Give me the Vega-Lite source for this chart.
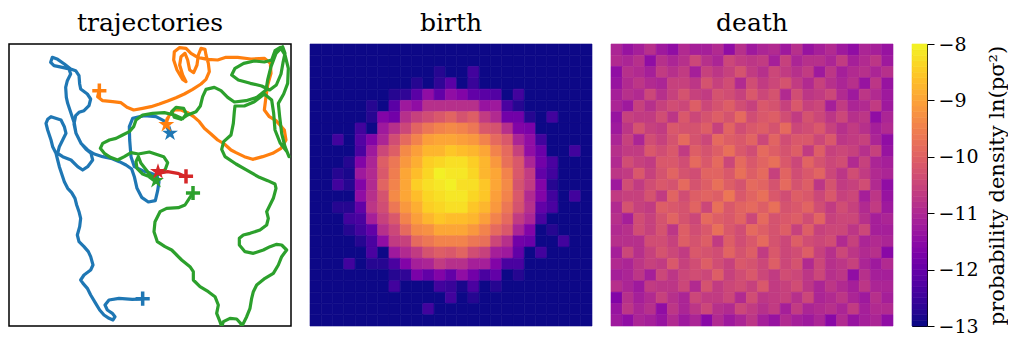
{
"$schema": "https://vega.github.io/schema/vega-lite/v6.json",
"background": "white",
"padding": {"left": 8, "top": 10, "right": 0, "bottom": 0},
"config": {"view": {"stroke": null}, "title": {"font": "DejaVu Serif", "fontSize": 25, "fontWeight": "normal", "color": "black", "offset": 8}},
"spacing": 17,
"resolve": {"scale": {"color": "independent", "fill": "independent", "stroke": "independent"}},
"datasets": {
"traj": [
{"id":"a","x":425,"y":897},{"id":"a","x":394,"y":898},{"id":"a","x":354,"y":895},{"id":"a","x":324,"y":900},{"id":"a","x":312,"y":915},{"id":"a","x":319,"y":930},{"id":"a","x":334,"y":940},{"id":"a","x":342,"y":950},{"id":"a","x":336,"y":960},{"id":"a","x":324,"y":955},{"id":"a","x":309,"y":945},{"id":"a","x":296,"y":930},{"id":"a","x":284,"y":910},{"id":"a","x":269,"y":885},{"id":"a","x":259,"y":865},{"id":"a","x":246,"y":850},{"id":"a","x":239,"y":840},{"id":"a","x":249,"y":825},{"id":"a","x":269,"y":810},{"id":"a","x":276,"y":795},{"id":"a","x":269,"y":770},{"id":"a","x":262,"y":755},{"id":"a","x":249,"y":740},{"id":"a","x":234,"y":725},{"id":"a","x":229,"y":705},{"id":"a","x":236,"y":680},{"id":"a","x":239,"y":655},{"id":"a","x":234,"y":635},{"id":"a","x":227,"y":615},{"id":"a","x":222,"y":595},{"id":"a","x":212,"y":578},{"id":"a","x":200,"y":565},{"id":"a","x":190,"y":545},{"id":"a","x":185,"y":530},{"id":"a","x":175,"y":500},{"id":"a","x":170,"y":480},{"id":"a","x":165,"y":460},{"id":"a","x":155,"y":440},{"id":"a","x":150,"y":420},{"id":"a","x":140,"y":390},{"id":"a","x":135,"y":370},{"id":"a","x":140,"y":358},{"id":"a","x":150,"y":350},{"id":"a","x":180,"y":360},{"id":"a","x":190,"y":380},{"id":"a","x":195,"y":400},{"id":"a","x":185,"y":420},{"id":"a","x":175,"y":440},{"id":"a","x":170,"y":460},{"id":"a","x":185,"y":470},{"id":"a","x":210,"y":480},{"id":"a","x":230,"y":500},{"id":"a","x":245,"y":510},{"id":"a","x":260,"y":500},{"id":"a","x":275,"y":480},{"id":"a","x":270,"y":460},{"id":"a","x":255,"y":448},{"id":"a","x":240,"y":430},{"id":"a","x":225,"y":400},{"id":"a","x":220,"y":370},{"id":"a","x":210,"y":340},{"id":"a","x":200,"y":310},{"id":"a","x":196,"y":292},{"id":"a","x":194,"y":262},{"id":"a","x":199,"y":242},{"id":"a","x":209,"y":222},{"id":"a","x":204,"y":207},{"id":"a","x":184,"y":202},{"id":"a","x":159,"y":197},{"id":"a","x":149,"y":187},{"id":"a","x":154,"y":172},{"id":"a","x":170,"y":178},{"id":"a","x":190,"y":192},{"id":"a","x":209,"y":207},{"id":"a","x":224,"y":212},{"id":"a","x":234,"y":227},{"id":"a","x":236,"y":252},{"id":"a","x":239,"y":267},{"id":"a","x":259,"y":282},{"id":"a","x":269,"y":297},{"id":"a","x":264,"y":317},{"id":"a","x":249,"y":332},{"id":"a","x":234,"y":337},{"id":"a","x":224,"y":347},{"id":"a","x":219,"y":372},{"id":"a","x":225,"y":400},{"id":"a","x":240,"y":430},{"id":"a","x":260,"y":450},{"id":"a","x":280,"y":462},{"id":"a","x":305,"y":470},{"id":"a","x":330,"y":475},{"id":"a","x":355,"y":485},{"id":"a","x":375,"y":495},{"id":"a","x":392,"y":507},{"id":"a","x":400,"y":530},{"id":"a","x":408,"y":565},{"id":"a","x":422,"y":592},{"id":"a","x":442,"y":606},{"id":"a","x":463,"y":602},{"id":"a","x":470,"y":572},{"id":"a","x":474,"y":545},{"id":"a","x":468,"y":528},{"id":"a","x":450,"y":520},{"id":"a","x":425,"y":512},{"id":"a","x":400,"y":500},{"id":"a","x":390,"y":470},{"id":"a","x":386,"y":420},{"id":"a","x":385,"y":380},{"id":"a","x":395,"y":355},{"id":"a","x":430,"y":347},{"id":"a","x":465,"y":350},{"id":"a","x":488,"y":362},{"id":"a","x":500,"y":385},{"id":"a","x":507,"y":400},
{"id":"b","x":295,"y":270},{"id":"b","x":290,"y":290},{"id":"b","x":305,"y":302},{"id":"b","x":335,"y":305},{"id":"b","x":360,"y":308},{"id":"b","x":378,"y":322},{"id":"b","x":398,"y":330},{"id":"b","x":425,"y":325},{"id":"b","x":450,"y":320},{"id":"b","x":475,"y":312},{"id":"b","x":500,"y":303},{"id":"b","x":525,"y":293},{"id":"b","x":550,"y":282},{"id":"b","x":575,"y":268},{"id":"b","x":600,"y":252},{"id":"b","x":615,"y":238},{"id":"b","x":625,"y":215},{"id":"b","x":622,"y":190},{"id":"b","x":615,"y":165},{"id":"b","x":612,"y":148},{"id":"b","x":600,"y":145},{"id":"b","x":592,"y":165},{"id":"b","x":588,"y":195},{"id":"b","x":578,"y":218},{"id":"b","x":566,"y":210},{"id":"b","x":560,"y":180},{"id":"b","x":552,"y":160},{"id":"b","x":540,"y":170},{"id":"b","x":536,"y":195},{"id":"b","x":545,"y":225},{"id":"b","x":555,"y":245},{"id":"b","x":545,"y":238},{"id":"b","x":528,"y":210},{"id":"b","x":518,"y":180},{"id":"b","x":520,"y":155},{"id":"b","x":535,"y":143},{"id":"b","x":555,"y":145},{"id":"b","x":570,"y":160},{"id":"b","x":590,"y":172},{"id":"b","x":620,"y":178},{"id":"b","x":650,"y":180},{"id":"b","x":675,"y":172},{"id":"b","x":710,"y":172},{"id":"b","x":750,"y":177},{"id":"b","x":790,"y":175},{"id":"b","x":808,"y":190},{"id":"b","x":810,"y":220},{"id":"b","x":800,"y":255},{"id":"b","x":795,"y":290},{"id":"b","x":790,"y":330},{"id":"b","x":805,"y":350},{"id":"b","x":825,"y":362},{"id":"b","x":850,"y":390},{"id":"b","x":855,"y":420},{"id":"b","x":840,"y":445},{"id":"b","x":815,"y":460},{"id":"b","x":785,"y":470},{"id":"b","x":755,"y":478},{"id":"b","x":730,"y":470},{"id":"b","x":705,"y":458},{"id":"b","x":690,"y":450},{"id":"b","x":670,"y":432},{"id":"b","x":650,"y":420},{"id":"b","x":630,"y":402},{"id":"b","x":610,"y":385},{"id":"b","x":595,"y":365},{"id":"b","x":578,"y":350},{"id":"b","x":560,"y":338},{"id":"b","x":540,"y":330},{"id":"b","x":520,"y":330},{"id":"b","x":505,"y":345},{"id":"b","x":498,"y":362},{"id":"b","x":495,"y":375},
{"id":"c","x":575,"y":580},{"id":"c","x":565,"y":595},{"id":"c","x":552,"y":615},{"id":"c","x":532,"y":623},{"id":"c","x":497,"y":625},{"id":"c","x":477,"y":635},{"id":"c","x":462,"y":665},{"id":"c","x":459,"y":695},{"id":"c","x":469,"y":725},{"id":"c","x":492,"y":740},{"id":"c","x":512,"y":750},{"id":"c","x":527,"y":765},{"id":"c","x":542,"y":780},{"id":"c","x":567,"y":800},{"id":"c","x":577,"y":815},{"id":"c","x":577,"y":840},{"id":"c","x":597,"y":860},{"id":"c","x":622,"y":875},{"id":"c","x":642,"y":890},{"id":"c","x":652,"y":915},{"id":"c","x":647,"y":940},{"id":"c","x":657,"y":965},{"id":"c","x":662,"y":980},{"id":"c","x":667,"y":965},{"id":"c","x":687,"y":955},{"id":"c","x":707,"y":957},{"id":"c","x":719,"y":970},{"id":"c","x":722,"y":980},{"id":"c","x":737,"y":950},{"id":"c","x":747,"y":925},{"id":"c","x":752,"y":895},{"id":"c","x":757,"y":875},{"id":"c","x":767,"y":855},{"id":"c","x":792,"y":835},{"id":"c","x":817,"y":820},{"id":"c","x":832,"y":795},{"id":"c","x":842,"y":770},{"id":"c","x":857,"y":750},{"id":"c","x":842,"y":735},{"id":"c","x":827,"y":733},{"id":"c","x":807,"y":740},{"id":"c","x":787,"y":750},{"id":"c","x":757,"y":760},{"id":"c","x":732,"y":755},{"id":"c","x":715,"y":735},{"id":"c","x":715,"y":715},{"id":"c","x":727,"y":705},{"id":"c","x":747,"y":700},{"id":"c","x":777,"y":690},{"id":"c","x":797,"y":675},{"id":"c","x":802,"y":655},{"id":"c","x":797,"y":635},{"id":"c","x":807,"y":615},{"id":"c","x":817,"y":595},{"id":"c","x":825,"y":565},{"id":"c","x":822,"y":552},{"id":"c","x":800,"y":542},{"id":"c","x":775,"y":532},{"id":"c","x":740,"y":512},{"id":"c","x":705,"y":492},{"id":"c","x":672,"y":470},{"id":"c","x":662,"y":448},{"id":"c","x":668,"y":425},{"id":"c","x":690,"y":405},{"id":"c","x":697,"y":370},{"id":"c","x":700,"y":335},{"id":"c","x":702,"y":318},{"id":"c","x":730,"y":318},{"id":"c","x":760,"y":305},{"id":"c","x":790,"y":282},{"id":"c","x":812,"y":300},{"id":"c","x":818,"y":340},{"id":"c","x":822,"y":390},{"id":"c","x":838,"y":430},{"id":"c","x":858,"y":455},{"id":"c","x":864,"y":470},{"id":"c","x":852,"y":440},{"id":"c","x":842,"y":400},{"id":"c","x":836,"y":350},{"id":"c","x":832,"y":310},{"id":"c","x":848,"y":282},{"id":"c","x":860,"y":250},{"id":"c","x":862,"y":205},{"id":"c","x":852,"y":165},{"id":"c","x":838,"y":142},{"id":"c","x":822,"y":152},{"id":"c","x":812,"y":180},{"id":"c","x":790,"y":186},{"id":"c","x":760,"y":183},{"id":"c","x":728,"y":190},{"id":"c","x":702,"y":205},{"id":"c","x":692,"y":225},{"id":"c","x":712,"y":240},{"id":"c","x":748,"y":250},{"id":"c","x":782,"y":258},{"id":"c","x":806,"y":270},{"id":"c","x":826,"y":255},{"id":"c","x":840,"y":222},{"id":"c","x":846,"y":188},{"id":"c","x":852,"y":160},{"id":"c","x":845,"y":140},{"id":"c","x":825,"y":160},{"id":"c","x":810,"y":200},{"id":"c","x":800,"y":240},{"id":"c","x":795,"y":270},{"id":"c","x":768,"y":292},{"id":"c","x":735,"y":302},{"id":"c","x":700,"y":306},{"id":"c","x":680,"y":292},{"id":"c","x":660,"y":272},{"id":"c","x":640,"y":262},{"id":"c","x":615,"y":268},{"id":"c","x":605,"y":290},{"id":"c","x":598,"y":318},{"id":"c","x":585,"y":335},{"id":"c","x":560,"y":345},{"id":"c","x":540,"y":358},{"id":"c","x":520,"y":352},{"id":"c","x":512,"y":335},{"id":"c","x":525,"y":322},{"id":"c","x":548,"y":325},{"id":"c","x":556,"y":342},{"id":"c","x":545,"y":356},{"id":"c","x":520,"y":345},{"id":"c","x":490,"y":338},{"id":"c","x":455,"y":340},{"id":"c","x":425,"y":345},{"id":"c","x":405,"y":360},{"id":"c","x":398,"y":380},{"id":"c","x":385,"y":395},{"id":"c","x":365,"y":405},{"id":"c","x":345,"y":415},{"id":"c","x":325,"y":420},{"id":"c","x":305,"y":430},{"id":"c","x":298,"y":445},{"id":"c","x":310,"y":460},{"id":"c","x":328,"y":472},{"id":"c","x":350,"y":480},{"id":"c","x":370,"y":470},{"id":"c","x":390,"y":458},{"id":"c","x":412,"y":462},{"id":"c","x":445,"y":456},{"id":"c","x":488,"y":470},{"id":"c","x":500,"y":488},{"id":"c","x":493,"y":508},{"id":"c","x":475,"y":522},{"id":"c","x":450,"y":532},{"id":"c","x":425,"y":522},{"id":"c","x":408,"y":505},{"id":"c","x":405,"y":485},{"id":"c","x":412,"y":470},{"id":"c","x":420,"y":490},{"id":"c","x":440,"y":515},{"id":"c","x":465,"y":545},
{"id":"d","x":555,"y":530},{"id":"d","x":530,"y":520},{"id":"d","x":500,"y":515},{"id":"d","x":470,"y":520}
],
"starts": [{"id":"a","x":425,"y":896},{"id":"b","x":295,"y":272},{"id":"c","x":576,"y":579},{"id":"d","x":555,"y":529}],
"ends": [{"id":"a","x":507,"y":400},{"id":"b","x":496,"y":374},{"id":"c","x":465,"y":542},{"id":"d","x":471,"y":515}],
"cbar": [{"v":-13,"w":-12.9},{"v":-12.9,"w":-12.8},{"v":-12.8,"w":-12.7},{"v":-12.7,"w":-12.6},{"v":-12.6,"w":-12.5},{"v":-12.5,"w":-12.4},{"v":-12.4,"w":-12.3},{"v":-12.3,"w":-12.2},{"v":-12.2,"w":-12.1},{"v":-12.1,"w":-12},{"v":-12,"w":-11.9},{"v":-11.9,"w":-11.8},{"v":-11.8,"w":-11.7},{"v":-11.7,"w":-11.6},{"v":-11.6,"w":-11.5},{"v":-11.5,"w":-11.4},{"v":-11.4,"w":-11.3},{"v":-11.3,"w":-11.2},{"v":-11.2,"w":-11.1},{"v":-11.1,"w":-11},{"v":-11,"w":-10.9},{"v":-10.9,"w":-10.8},{"v":-10.8,"w":-10.7},{"v":-10.7,"w":-10.6},{"v":-10.6,"w":-10.5},{"v":-10.5,"w":-10.4},{"v":-10.4,"w":-10.3},{"v":-10.3,"w":-10.2},{"v":-10.2,"w":-10.1},{"v":-10.1,"w":-10},{"v":-10,"w":-9.9},{"v":-9.9,"w":-9.8},{"v":-9.8,"w":-9.7},{"v":-9.7,"w":-9.6},{"v":-9.6,"w":-9.5},{"v":-9.5,"w":-9.4},{"v":-9.4,"w":-9.3},{"v":-9.3,"w":-9.2},{"v":-9.2,"w":-9.1},{"v":-9.1,"w":-9},{"v":-9,"w":-8.9},{"v":-8.9,"w":-8.8},{"v":-8.8,"w":-8.7},{"v":-8.7,"w":-8.6},{"v":-8.6,"w":-8.5},{"v":-8.5,"w":-8.4},{"v":-8.4,"w":-8.3},{"v":-8.3,"w":-8.2},{"v":-8.2,"w":-8.1},{"v":-8.1,"w":-8}],
"grid": [
{"x":0,"y":0,"b":-13,"d":-11.1},{"x":1,"y":0,"b":-13,"d":-11.4},{"x":2,"y":0,"b":-13,"d":-11.2},{"x":3,"y":0,"b":-13,"d":-10.9},{"x":4,"y":0,"b":-13,"d":-11.3},{"x":5,"y":0,"b":-13,"d":-11.5},{"x":6,"y":0,"b":-13,"d":-11},{"x":7,"y":0,"b":-13,"d":-11.2},{"x":8,"y":0,"b":-13,"d":-11.2},{"x":9,"y":0,"b":-13,"d":-11},{"x":10,"y":0,"b":-13,"d":-11.5},{"x":11,"y":0,"b":-13,"d":-10.9},{"x":12,"y":0,"b":-13,"d":-11.3},{"x":13,"y":0,"b":-13,"d":-11.1},{"x":14,"y":0,"b":-13,"d":-11},{"x":15,"y":0,"b":-13,"d":-11.3},{"x":16,"y":0,"b":-13,"d":-10.9},{"x":17,"y":0,"b":-13,"d":-11.4},{"x":18,"y":0,"b":-13,"d":-11.2},{"x":19,"y":0,"b":-13,"d":-11},{"x":20,"y":0,"b":-13,"d":-11.3},{"x":21,"y":0,"b":-13,"d":-11.5},{"x":22,"y":0,"b":-13,"d":-11.1},{"x":23,"y":0,"b":-13,"d":-11.2},{"x":24,"y":0,"b":-13,"d":-11.4},
{"x":0,"y":1,"b":-13,"d":-11},{"x":1,"y":1,"b":-13,"d":-11.1},{"x":2,"y":1,"b":-13,"d":-10.9},{"x":3,"y":1,"b":-13,"d":-11.5},{"x":4,"y":1,"b":-13,"d":-10.9},{"x":5,"y":1,"b":-13,"d":-11.1},{"x":6,"y":1,"b":-13,"d":-10.9},{"x":7,"y":1,"b":-13,"d":-10.5},{"x":8,"y":1,"b":-13,"d":-10.9},{"x":9,"y":1,"b":-13,"d":-11.1},{"x":10,"y":1,"b":-13,"d":-10.5},{"x":11,"y":1,"b":-13,"d":-10.7},{"x":12,"y":1,"b":-13,"d":-10.8},{"x":13,"y":1,"b":-13,"d":-10.7},{"x":14,"y":1,"b":-13,"d":-11.2},{"x":15,"y":1,"b":-13,"d":-10.6},{"x":16,"y":1,"b":-13,"d":-11.1},{"x":17,"y":1,"b":-13,"d":-10.9},{"x":18,"y":1,"b":-13,"d":-10.9},{"x":19,"y":1,"b":-13,"d":-11.1},{"x":20,"y":1,"b":-13,"d":-10.7},{"x":21,"y":1,"b":-13,"d":-11.2},{"x":22,"y":1,"b":-13,"d":-11},{"x":23,"y":1,"b":-13,"d":-10.8},{"x":24,"y":1,"b":-13,"d":-11.3},
{"x":0,"y":2,"b":-13,"d":-11.5},{"x":1,"y":2,"b":-13,"d":-10.9},{"x":2,"y":2,"b":-13,"d":-11},{"x":3,"y":2,"b":-13,"d":-11.2},{"x":4,"y":2,"b":-13,"d":-10.7},{"x":5,"y":2,"b":-13,"d":-10.9},{"x":6,"y":2,"b":-13,"d":-10.7},{"x":7,"y":2,"b":-13,"d":-11.2},{"x":8,"y":2,"b":-13,"d":-10.6},{"x":9,"y":2,"b":-13,"d":-10.8},{"x":10,"y":2,"b":-13,"d":-10.6},{"x":11,"y":2,"b":-12.8,"d":-10.3},{"x":12,"y":2,"b":-13,"d":-10.7},{"x":13,"y":2,"b":-13,"d":-10.9},{"x":14,"y":2,"b":-12.5,"d":-10.5},{"x":15,"y":2,"b":-13,"d":-10.7},{"x":16,"y":2,"b":-13,"d":-10.9},{"x":17,"y":2,"b":-13,"d":-10.7},{"x":18,"y":2,"b":-13,"d":-11.3},{"x":19,"y":2,"b":-13,"d":-10.8},{"x":20,"y":2,"b":-13,"d":-11.2},{"x":21,"y":2,"b":-13,"d":-11},{"x":22,"y":2,"b":-13,"d":-10.9},{"x":23,"y":2,"b":-13,"d":-11.1},{"x":24,"y":2,"b":-13,"d":-10.9},
{"x":0,"y":3,"b":-13,"d":-11.4},{"x":1,"y":3,"b":-13,"d":-11},{"x":2,"y":3,"b":-13,"d":-10.8},{"x":3,"y":3,"b":-13,"d":-11},{"x":4,"y":3,"b":-13,"d":-11.1},{"x":5,"y":3,"b":-13,"d":-10.6},{"x":6,"y":3,"b":-13,"d":-10.6},{"x":7,"y":3,"b":-13,"d":-10.8},{"x":8,"y":3,"b":-13,"d":-10.3},{"x":9,"y":3,"b":-12.8,"d":-10.6},{"x":10,"y":3,"b":-13,"d":-10.4},{"x":11,"y":3,"b":-12.7,"d":-11},{"x":12,"y":3,"b":-12.2,"d":-10.4},{"x":13,"y":3,"b":-13,"d":-10.7},{"x":14,"y":3,"b":-12.6,"d":-10.5},{"x":15,"y":3,"b":-13,"d":-10.3},{"x":16,"y":3,"b":-13,"d":-10.7},{"x":17,"y":3,"b":-13,"d":-11},{"x":18,"y":3,"b":-13,"d":-10.6},{"x":19,"y":3,"b":-13,"d":-10.9},{"x":20,"y":3,"b":-13,"d":-11.1},{"x":21,"y":3,"b":-13,"d":-10.9},{"x":22,"y":3,"b":-13,"d":-11.4},{"x":23,"y":3,"b":-13,"d":-10.8},{"x":24,"y":3,"b":-13,"d":-11.4},
{"x":0,"y":4,"b":-13,"d":-11.2},{"x":1,"y":4,"b":-13,"d":-10.9},{"x":2,"y":4,"b":-13,"d":-11},{"x":3,"y":4,"b":-13,"d":-10.5},{"x":4,"y":4,"b":-13,"d":-10.9},{"x":5,"y":4,"b":-13,"d":-10.6},{"x":6,"y":4,"b":-13,"d":-10.3},{"x":7,"y":4,"b":-12.8,"d":-10.6},{"x":8,"y":4,"b":-12.7,"d":-10.7},{"x":9,"y":4,"b":-12.2,"d":-10.3},{"x":10,"y":4,"b":-11.5,"d":-10.4},{"x":11,"y":4,"b":-12.1,"d":-10.6},{"x":12,"y":4,"b":-11.5,"d":-10.2},{"x":13,"y":4,"b":-11.7,"d":-10.5},{"x":14,"y":4,"b":-12.1,"d":-10.3},{"x":15,"y":4,"b":-12.2,"d":-11},{"x":16,"y":4,"b":-12.3,"d":-10.4},{"x":17,"y":4,"b":-13,"d":-10.8},{"x":18,"y":4,"b":-12.5,"d":-10.7},{"x":19,"y":4,"b":-13,"d":-10.5},{"x":20,"y":4,"b":-13,"d":-11},{"x":21,"y":4,"b":-13,"d":-11.3},{"x":22,"y":4,"b":-13,"d":-10.8},{"x":23,"y":4,"b":-13,"d":-11},{"x":24,"y":4,"b":-13,"d":-11.3},
{"x":0,"y":5,"b":-13,"d":-11.1},{"x":1,"y":5,"b":-13,"d":-11.3},{"x":2,"y":5,"b":-13,"d":-10.6},{"x":3,"y":5,"b":-13,"d":-10.9},{"x":4,"y":5,"b":-13,"d":-10.6},{"x":5,"y":5,"b":-12.8,"d":-10.4},{"x":6,"y":5,"b":-13,"d":-10.5},{"x":7,"y":5,"b":-12.2,"d":-10.1},{"x":8,"y":5,"b":-11.3,"d":-10.5},{"x":9,"y":5,"b":-11.5,"d":-10.3},{"x":10,"y":5,"b":-10.9,"d":-10.1},{"x":11,"y":5,"b":-10.9,"d":-10.4},{"x":12,"y":5,"b":-10.9,"d":-10.6},{"x":13,"y":5,"b":-10.9,"d":-10.2},{"x":14,"y":5,"b":-10.9,"d":-10.3},{"x":15,"y":5,"b":-11.4,"d":-10.6},{"x":16,"y":5,"b":-11.3,"d":-10.2},{"x":17,"y":5,"b":-12.4,"d":-10.6},{"x":18,"y":5,"b":-12.8,"d":-10.5},{"x":19,"y":5,"b":-13,"d":-11.2},{"x":20,"y":5,"b":-13,"d":-10.7},{"x":21,"y":5,"b":-13,"d":-11.1},{"x":22,"y":5,"b":-13,"d":-11},{"x":23,"y":5,"b":-13,"d":-10.7},{"x":24,"y":5,"b":-13,"d":-11.3},
{"x":0,"y":6,"b":-13,"d":-11.4},{"x":1,"y":6,"b":-13,"d":-10.6},{"x":2,"y":6,"b":-13,"d":-10.7},{"x":3,"y":6,"b":-13,"d":-10.7},{"x":4,"y":6,"b":-13,"d":-10.4},{"x":5,"y":6,"b":-12.8,"d":-10.8},{"x":6,"y":6,"b":-11.7,"d":-10.2},{"x":7,"y":6,"b":-11.9,"d":-10.5},{"x":8,"y":6,"b":-10.9,"d":-10.3},{"x":9,"y":6,"b":-10.6,"d":-10.1},{"x":10,"y":6,"b":-10.4,"d":-10.3},{"x":11,"y":6,"b":-10.2,"d":-9.9},{"x":12,"y":6,"b":-10,"d":-10.4},{"x":13,"y":6,"b":-10.3,"d":-10.2},{"x":14,"y":6,"b":-10.1,"d":-10.1},{"x":15,"y":6,"b":-10.7,"d":-10.4},{"x":16,"y":6,"b":-11,"d":-10.7},{"x":17,"y":6,"b":-11.9,"d":-10.3},{"x":18,"y":6,"b":-11.9,"d":-10.5},{"x":19,"y":6,"b":-12.8,"d":-10.8},{"x":20,"y":6,"b":-13,"d":-10.5},{"x":21,"y":6,"b":-12.5,"d":-10.9},{"x":22,"y":6,"b":-13,"d":-10.8},{"x":23,"y":6,"b":-13,"d":-11.5},{"x":24,"y":6,"b":-13,"d":-11.1},
{"x":0,"y":7,"b":-13,"d":-11.3},{"x":1,"y":7,"b":-13,"d":-10.8},{"x":2,"y":7,"b":-13,"d":-10.3},{"x":3,"y":7,"b":-13,"d":-10.6},{"x":4,"y":7,"b":-12.5,"d":-10.7},{"x":5,"y":7,"b":-13,"d":-10.2},{"x":6,"y":7,"b":-11.3,"d":-10.3},{"x":7,"y":7,"b":-10.9,"d":-10.3},{"x":8,"y":7,"b":-10.5,"d":-10.1},{"x":9,"y":7,"b":-10,"d":-10.6},{"x":10,"y":7,"b":-9.7,"d":-10},{"x":11,"y":7,"b":-9.5,"d":-10.4},{"x":12,"y":7,"b":-9.4,"d":-10.2},{"x":13,"y":7,"b":-9.5,"d":-10.1},{"x":14,"y":7,"b":-9.7,"d":-10.3},{"x":15,"y":7,"b":-10.2,"d":-9.9},{"x":16,"y":7,"b":-10.3,"d":-10.5},{"x":17,"y":7,"b":-10.9,"d":-10.4},{"x":18,"y":7,"b":-11.7,"d":-10.2},{"x":19,"y":7,"b":-11.8,"d":-10.6},{"x":20,"y":7,"b":-13,"d":-10.9},{"x":21,"y":7,"b":-13,"d":-10.7},{"x":22,"y":7,"b":-13,"d":-10.9},{"x":23,"y":7,"b":-13,"d":-11.2},{"x":24,"y":7,"b":-13,"d":-11},
{"x":0,"y":8,"b":-13,"d":-11.1},{"x":1,"y":8,"b":-13,"d":-10.6},{"x":2,"y":8,"b":-12.5,"d":-11.1},{"x":3,"y":8,"b":-13,"d":-10.4},{"x":4,"y":8,"b":-12.3,"d":-10.6},{"x":5,"y":8,"b":-11.7,"d":-10.3},{"x":6,"y":8,"b":-11.1,"d":-9.9},{"x":7,"y":8,"b":-10.4,"d":-10.3},{"x":8,"y":8,"b":-9.9,"d":-10.5},{"x":9,"y":8,"b":-9.5,"d":-9.9},{"x":10,"y":8,"b":-9.1,"d":-10.1},{"x":11,"y":8,"b":-9,"d":-10.2},{"x":12,"y":8,"b":-9,"d":-10},{"x":13,"y":8,"b":-9.1,"d":-10.5},{"x":14,"y":8,"b":-9.2,"d":-10},{"x":15,"y":8,"b":-9.5,"d":-10.4},{"x":16,"y":8,"b":-9.9,"d":-10.2},{"x":17,"y":8,"b":-10.2,"d":-10.2},{"x":18,"y":8,"b":-11.1,"d":-10.5},{"x":19,"y":8,"b":-11.5,"d":-10.2},{"x":20,"y":8,"b":-12.5,"d":-10.8},{"x":21,"y":8,"b":-13,"d":-10.7},{"x":22,"y":8,"b":-13,"d":-10.6},{"x":23,"y":8,"b":-13,"d":-11.1},{"x":24,"y":8,"b":-13,"d":-11.5},
{"x":0,"y":9,"b":-13,"d":-10.9},{"x":1,"y":9,"b":-13,"d":-10.7},{"x":2,"y":9,"b":-13,"d":-10.7},{"x":3,"y":9,"b":-13,"d":-10.2},{"x":4,"y":9,"b":-12.4,"d":-10.4},{"x":5,"y":9,"b":-11.3,"d":-10.2},{"x":6,"y":9,"b":-10.5,"d":-10.7},{"x":7,"y":9,"b":-10.1,"d":-10.1},{"x":8,"y":9,"b":-9.4,"d":-10.3},{"x":9,"y":9,"b":-9.1,"d":-10.1},{"x":10,"y":9,"b":-8.8,"d":-9.8},{"x":11,"y":9,"b":-8.8,"d":-10.2},{"x":12,"y":9,"b":-8.6,"d":-10.4},{"x":13,"y":9,"b":-8.7,"d":-9.9},{"x":14,"y":9,"b":-8.8,"d":-10.1},{"x":15,"y":9,"b":-9,"d":-10.3},{"x":16,"y":9,"b":-9.5,"d":-10.1},{"x":17,"y":9,"b":-9.9,"d":-10.7},{"x":18,"y":9,"b":-10.6,"d":-10.1},{"x":19,"y":9,"b":-11.5,"d":-10.6},{"x":20,"y":9,"b":-12,"d":-10.5},{"x":21,"y":9,"b":-13,"d":-10.6},{"x":22,"y":9,"b":-13,"d":-10.9},{"x":23,"y":9,"b":-12.5,"d":-10.6},{"x":24,"y":9,"b":-13,"d":-11.4},
{"x":0,"y":10,"b":-13,"d":-11},{"x":1,"y":10,"b":-13,"d":-10.4},{"x":2,"y":10,"b":-13,"d":-10.6},{"x":3,"y":10,"b":-12.8,"d":-10.7},{"x":4,"y":10,"b":-11.7,"d":-10.2},{"x":5,"y":10,"b":-11.1,"d":-10.2},{"x":6,"y":10,"b":-10.1,"d":-10.4},{"x":7,"y":10,"b":-9.7,"d":-9.9},{"x":8,"y":10,"b":-9.2,"d":-10.2},{"x":9,"y":10,"b":-8.9,"d":-9.9},{"x":10,"y":10,"b":-8.5,"d":-10.5},{"x":11,"y":10,"b":-8.4,"d":-9.9},{"x":12,"y":10,"b":-8.3,"d":-10.2},{"x":13,"y":10,"b":-8.3,"d":-10},{"x":14,"y":10,"b":-8.5,"d":-9.8},{"x":15,"y":10,"b":-8.8,"d":-10.2},{"x":16,"y":10,"b":-9.2,"d":-10.5},{"x":17,"y":10,"b":-9.8,"d":-10},{"x":18,"y":10,"b":-10.2,"d":-10.3},{"x":19,"y":10,"b":-11.1,"d":-10.5},{"x":20,"y":10,"b":-11.9,"d":-10.4},{"x":21,"y":10,"b":-12.4,"d":-11},{"x":22,"y":10,"b":-13,"d":-10.6},{"x":23,"y":10,"b":-13,"d":-11.1},{"x":24,"y":10,"b":-13,"d":-11.2},
{"x":0,"y":11,"b":-13,"d":-10.8},{"x":1,"y":11,"b":-13,"d":-10.7},{"x":2,"y":11,"b":-12.8,"d":-10.2},{"x":3,"y":11,"b":-12.9,"d":-10.6},{"x":4,"y":11,"b":-11.3,"d":-10.3},{"x":5,"y":11,"b":-11,"d":-10},{"x":6,"y":11,"b":-10.2,"d":-10.3},{"x":7,"y":11,"b":-9.6,"d":-10.4},{"x":8,"y":11,"b":-9,"d":-10},{"x":9,"y":11,"b":-8.7,"d":-10},{"x":10,"y":11,"b":-8.4,"d":-10.2},{"x":11,"y":11,"b":-8.1,"d":-9.8},{"x":12,"y":11,"b":-8.2,"d":-10.1},{"x":13,"y":11,"b":-8.2,"d":-9.9},{"x":14,"y":11,"b":-8.4,"d":-10.6},{"x":15,"y":11,"b":-8.8,"d":-10},{"x":16,"y":11,"b":-9,"d":-10.4},{"x":17,"y":11,"b":-9.5,"d":-10.2},{"x":18,"y":11,"b":-10.2,"d":-10},{"x":19,"y":11,"b":-10.7,"d":-10.5},{"x":20,"y":11,"b":-12.1,"d":-10.8},{"x":21,"y":11,"b":-12.5,"d":-10.4},{"x":22,"y":11,"b":-13,"d":-10.7},{"x":23,"y":11,"b":-13,"d":-11},{"x":24,"y":11,"b":-13,"d":-11.1},
{"x":0,"y":12,"b":-13,"d":-11.3},{"x":1,"y":12,"b":-13,"d":-10.4},{"x":2,"y":12,"b":-12.5,"d":-10.7},{"x":3,"y":12,"b":-12.8,"d":-10.4},{"x":4,"y":12,"b":-11.7,"d":-10.2},{"x":5,"y":12,"b":-11,"d":-10.3},{"x":6,"y":12,"b":-10,"d":-9.9},{"x":7,"y":12,"b":-9.5,"d":-10.3},{"x":8,"y":12,"b":-9,"d":-10.1},{"x":9,"y":12,"b":-8.5,"d":-9.8},{"x":10,"y":12,"b":-8.3,"d":-10.1},{"x":11,"y":12,"b":-8.2,"d":-10.3},{"x":12,"y":12,"b":-8.1,"d":-9.9},{"x":13,"y":12,"b":-8.3,"d":-10},{"x":14,"y":12,"b":-8.3,"d":-10.3},{"x":15,"y":12,"b":-8.6,"d":-9.9},{"x":16,"y":12,"b":-9,"d":-10.3},{"x":17,"y":12,"b":-9.4,"d":-10.1},{"x":18,"y":12,"b":-10.3,"d":-10.8},{"x":19,"y":12,"b":-10.7,"d":-10.3},{"x":20,"y":12,"b":-11.7,"d":-10.7},{"x":21,"y":12,"b":-12.8,"d":-10.6},{"x":22,"y":12,"b":-13,"d":-10.4},{"x":23,"y":12,"b":-13,"d":-11},{"x":24,"y":12,"b":-13,"d":-11.5},
{"x":0,"y":13,"b":-13,"d":-10.7},{"x":1,"y":13,"b":-13,"d":-10.6},{"x":2,"y":13,"b":-13,"d":-10.6},{"x":3,"y":13,"b":-13,"d":-10.3},{"x":4,"y":13,"b":-11.5,"d":-10.7},{"x":5,"y":13,"b":-10.9,"d":-10},{"x":6,"y":13,"b":-10.3,"d":-10.4},{"x":7,"y":13,"b":-9.4,"d":-10.1},{"x":8,"y":13,"b":-9,"d":-10},{"x":9,"y":13,"b":-8.7,"d":-10.1},{"x":10,"y":13,"b":-8.4,"d":-9.7},{"x":11,"y":13,"b":-8.3,"d":-10.2},{"x":12,"y":13,"b":-8.2,"d":-10},{"x":13,"y":13,"b":-8.2,"d":-9.8},{"x":14,"y":13,"b":-8.4,"d":-10.2},{"x":15,"y":13,"b":-8.6,"d":-10.4},{"x":16,"y":13,"b":-9.1,"d":-10.1},{"x":17,"y":13,"b":-9.5,"d":-10.2},{"x":18,"y":13,"b":-10.2,"d":-10.5},{"x":19,"y":13,"b":-11,"d":-10.2},{"x":20,"y":13,"b":-11.7,"d":-10.6},{"x":21,"y":13,"b":-12.5,"d":-10.5},{"x":22,"y":13,"b":-13,"d":-11.2},{"x":23,"y":13,"b":-12.5,"d":-10.8},{"x":24,"y":13,"b":-13,"d":-11.4},
{"x":0,"y":14,"b":-13,"d":-11},{"x":1,"y":14,"b":-13,"d":-10.3},{"x":2,"y":14,"b":-12.8,"d":-10.6},{"x":3,"y":14,"b":-12.8,"d":-10.7},{"x":4,"y":14,"b":-12.1,"d":-10.1},{"x":5,"y":14,"b":-10.8,"d":-10.2},{"x":6,"y":14,"b":-10.4,"d":-10.3},{"x":7,"y":14,"b":-9.7,"d":-10},{"x":8,"y":14,"b":-9.2,"d":-10.5},{"x":9,"y":14,"b":-8.9,"d":-9.8},{"x":10,"y":14,"b":-8.5,"d":-10.2},{"x":11,"y":14,"b":-8.4,"d":-10},{"x":12,"y":14,"b":-8.3,"d":-9.9},{"x":13,"y":14,"b":-8.3,"d":-10.1},{"x":14,"y":14,"b":-8.6,"d":-9.8},{"x":15,"y":14,"b":-8.8,"d":-10.3},{"x":16,"y":14,"b":-9.2,"d":-10.2},{"x":17,"y":14,"b":-9.7,"d":-10},{"x":18,"y":14,"b":-10.3,"d":-10.4},{"x":19,"y":14,"b":-10.9,"d":-10.7},{"x":20,"y":14,"b":-12.1,"d":-10.4},{"x":21,"y":14,"b":-12.4,"d":-10.6},{"x":22,"y":14,"b":-13,"d":-11},{"x":23,"y":14,"b":-13,"d":-10.7},{"x":24,"y":14,"b":-13,"d":-11.3},
{"x":0,"y":15,"b":-13,"d":-10.9},{"x":1,"y":15,"b":-13,"d":-11.2},{"x":2,"y":15,"b":-13,"d":-10.4},{"x":3,"y":15,"b":-12.5,"d":-10.6},{"x":4,"y":15,"b":-12.4,"d":-10.3},{"x":5,"y":15,"b":-11.2,"d":-10},{"x":6,"y":15,"b":-10.6,"d":-10.3},{"x":7,"y":15,"b":-10.2,"d":-10.5},{"x":8,"y":15,"b":-9.5,"d":-9.9},{"x":9,"y":15,"b":-9.1,"d":-10.1},{"x":10,"y":15,"b":-8.8,"d":-10.2},{"x":11,"y":15,"b":-8.6,"d":-10},{"x":12,"y":15,"b":-8.7,"d":-10.5},{"x":13,"y":15,"b":-8.7,"d":-9.9},{"x":14,"y":15,"b":-8.8,"d":-10.3},{"x":15,"y":15,"b":-9.1,"d":-10.2},{"x":16,"y":15,"b":-9.5,"d":-10.1},{"x":17,"y":15,"b":-9.9,"d":-10.4},{"x":18,"y":15,"b":-10.7,"d":-10},{"x":19,"y":15,"b":-11.1,"d":-10.6},{"x":20,"y":15,"b":-12.4,"d":-10.5},{"x":21,"y":15,"b":-13,"d":-10.5},{"x":22,"y":15,"b":-13,"d":-10.9},{"x":23,"y":15,"b":-13,"d":-11.2},{"x":24,"y":15,"b":-13,"d":-11.1},
{"x":0,"y":16,"b":-13,"d":-11},{"x":1,"y":16,"b":-13,"d":-10.9},{"x":2,"y":16,"b":-13,"d":-10.4},{"x":3,"y":16,"b":-12.8,"d":-10.6},{"x":4,"y":16,"b":-12.5,"d":-10.3},{"x":5,"y":16,"b":-12.1,"d":-10.8},{"x":6,"y":16,"b":-10.9,"d":-10.1},{"x":7,"y":16,"b":-10.5,"d":-10.4},{"x":8,"y":16,"b":-9.9,"d":-10.2},{"x":9,"y":16,"b":-9.4,"d":-9.8},{"x":10,"y":16,"b":-9.3,"d":-10.2},{"x":11,"y":16,"b":-9,"d":-10.4},{"x":12,"y":16,"b":-9,"d":-9.9},{"x":13,"y":16,"b":-9,"d":-10.1},{"x":14,"y":16,"b":-9.2,"d":-10.3},{"x":15,"y":16,"b":-9.5,"d":-10.1},{"x":16,"y":16,"b":-9.9,"d":-10.6},{"x":17,"y":16,"b":-10.2,"d":-10.1},{"x":18,"y":16,"b":-11.1,"d":-10.6},{"x":19,"y":16,"b":-11.7,"d":-10.5},{"x":20,"y":16,"b":-13,"d":-10.5},{"x":21,"y":16,"b":-12.8,"d":-10.8},{"x":22,"y":16,"b":-13,"d":-10.5},{"x":23,"y":16,"b":-13,"d":-11.2},{"x":24,"y":16,"b":-13,"d":-11.2},
{"x":0,"y":17,"b":-13,"d":-10.9},{"x":1,"y":17,"b":-13,"d":-10.9},{"x":2,"y":17,"b":-13,"d":-10.9},{"x":3,"y":17,"b":-13,"d":-10.4},{"x":4,"y":17,"b":-12.8,"d":-10.4},{"x":5,"y":17,"b":-12.4,"d":-10.6},{"x":6,"y":17,"b":-11.5,"d":-10.1},{"x":7,"y":17,"b":-10.7,"d":-10.3},{"x":8,"y":17,"b":-10.6,"d":-10.1},{"x":9,"y":17,"b":-9.9,"d":-10.7},{"x":10,"y":17,"b":-9.7,"d":-10.1},{"x":11,"y":17,"b":-9.5,"d":-10.4},{"x":12,"y":17,"b":-9.5,"d":-10.2},{"x":13,"y":17,"b":-9.5,"d":-9.9},{"x":14,"y":17,"b":-9.7,"d":-10.3},{"x":15,"y":17,"b":-9.8,"d":-10.5},{"x":16,"y":17,"b":-10.5,"d":-10.1},{"x":17,"y":17,"b":-10.9,"d":-10.4},{"x":18,"y":17,"b":-11.9,"d":-10.5},{"x":19,"y":17,"b":-12,"d":-10.4},{"x":20,"y":17,"b":-13,"d":-11},{"x":21,"y":17,"b":-13,"d":-10.6},{"x":22,"y":17,"b":-12.5,"d":-11.1},{"x":23,"y":17,"b":-13,"d":-11},{"x":24,"y":17,"b":-13,"d":-11.1},
{"x":0,"y":18,"b":-13,"d":-11.2},{"x":1,"y":18,"b":-13,"d":-10.5},{"x":2,"y":18,"b":-13,"d":-10.9},{"x":3,"y":18,"b":-13,"d":-10.6},{"x":4,"y":18,"b":-13,"d":-10.3},{"x":5,"y":18,"b":-12.4,"d":-10.5},{"x":6,"y":18,"b":-13,"d":-10.7},{"x":7,"y":18,"b":-11.3,"d":-10.2},{"x":8,"y":18,"b":-11,"d":-10.3},{"x":9,"y":18,"b":-10.7,"d":-10.4},{"x":10,"y":18,"b":-10.3,"d":-10},{"x":11,"y":18,"b":-10.1,"d":-10.3},{"x":12,"y":18,"b":-10.2,"d":-10.1},{"x":13,"y":18,"b":-10,"d":-10.7},{"x":14,"y":18,"b":-10.4,"d":-10.2},{"x":15,"y":18,"b":-10.6,"d":-10.5},{"x":16,"y":18,"b":-11.2,"d":-10.4},{"x":17,"y":18,"b":-11.3,"d":-10.1},{"x":18,"y":18,"b":-12.1,"d":-10.6},{"x":19,"y":18,"b":-13,"d":-10.9},{"x":20,"y":18,"b":-12.5,"d":-10.5},{"x":21,"y":18,"b":-13,"d":-10.8},{"x":22,"y":18,"b":-13,"d":-11},{"x":23,"y":18,"b":-13,"d":-10.9},{"x":24,"y":18,"b":-13,"d":-11.6},
{"x":0,"y":19,"b":-13,"d":-11},{"x":1,"y":19,"b":-13,"d":-11.1},{"x":2,"y":19,"b":-13,"d":-10.8},{"x":3,"y":19,"b":-12.5,"d":-10.6},{"x":4,"y":19,"b":-13,"d":-10.7},{"x":5,"y":19,"b":-12.8,"d":-10.2},{"x":6,"y":19,"b":-12.8,"d":-10.6},{"x":7,"y":19,"b":-12.4,"d":-10.4},{"x":8,"y":19,"b":-11.7,"d":-10.1},{"x":9,"y":19,"b":-11.2,"d":-10.4},{"x":10,"y":19,"b":-11.1,"d":-10.6},{"x":11,"y":19,"b":-10.7,"d":-10.2},{"x":12,"y":19,"b":-10.9,"d":-10.3},{"x":13,"y":19,"b":-10.9,"d":-10.5},{"x":14,"y":19,"b":-11.2,"d":-10.1},{"x":15,"y":19,"b":-11.2,"d":-10.5},{"x":16,"y":19,"b":-11.7,"d":-10.3},{"x":17,"y":19,"b":-12.4,"d":-11},{"x":18,"y":19,"b":-12.4,"d":-10.5},{"x":19,"y":19,"b":-13,"d":-10.9},{"x":20,"y":19,"b":-13,"d":-10.8},{"x":21,"y":19,"b":-13,"d":-10.6},{"x":22,"y":19,"b":-13,"d":-11.1},{"x":23,"y":19,"b":-13,"d":-11.3},{"x":24,"y":19,"b":-13,"d":-11},
{"x":0,"y":20,"b":-13,"d":-11.2},{"x":1,"y":20,"b":-13,"d":-11.1},{"x":2,"y":20,"b":-13,"d":-10.8},{"x":3,"y":20,"b":-13,"d":-11.2},{"x":4,"y":20,"b":-13,"d":-10.5},{"x":5,"y":20,"b":-13,"d":-10.8},{"x":6,"y":20,"b":-13,"d":-10.5},{"x":7,"y":20,"b":-12.8,"d":-10.4},{"x":8,"y":20,"b":-12.7,"d":-10.5},{"x":9,"y":20,"b":-11.8,"d":-10.1},{"x":10,"y":20,"b":-12.1,"d":-10.6},{"x":11,"y":20,"b":-11.7,"d":-10.4},{"x":12,"y":20,"b":-12.1,"d":-10.2},{"x":13,"y":20,"b":-11.5,"d":-10.5},{"x":14,"y":20,"b":-11.9,"d":-10.7},{"x":15,"y":20,"b":-12.4,"d":-10.4},{"x":16,"y":20,"b":-12.1,"d":-10.5},{"x":17,"y":20,"b":-13,"d":-10.8},{"x":18,"y":20,"b":-12.8,"d":-10.5},{"x":19,"y":20,"b":-13,"d":-10.9},{"x":20,"y":20,"b":-13,"d":-10.8},{"x":21,"y":20,"b":-13,"d":-11.5},{"x":22,"y":20,"b":-13,"d":-10.9},{"x":23,"y":20,"b":-13,"d":-11.2},{"x":24,"y":20,"b":-13,"d":-11.2},
{"x":0,"y":21,"b":-13,"d":-10.9},{"x":1,"y":21,"b":-13,"d":-11.1},{"x":2,"y":21,"b":-13,"d":-11.3},{"x":3,"y":21,"b":-13,"d":-10.7},{"x":4,"y":21,"b":-13,"d":-10.8},{"x":5,"y":21,"b":-13,"d":-10.8},{"x":6,"y":21,"b":-13,"d":-10.5},{"x":7,"y":21,"b":-12.5,"d":-11},{"x":8,"y":21,"b":-13,"d":-10.3},{"x":9,"y":21,"b":-13,"d":-10.7},{"x":10,"y":21,"b":-13,"d":-10.5},{"x":11,"y":21,"b":-12.5,"d":-10.4},{"x":12,"y":21,"b":-12.6,"d":-10.6},{"x":13,"y":21,"b":-12.9,"d":-10.2},{"x":14,"y":21,"b":-12.4,"d":-10.7},{"x":15,"y":21,"b":-13,"d":-10.6},{"x":16,"y":21,"b":-12.8,"d":-10.4},{"x":17,"y":21,"b":-13,"d":-10.8},{"x":18,"y":21,"b":-13,"d":-11.1},{"x":19,"y":21,"b":-13,"d":-10.8},{"x":20,"y":21,"b":-13,"d":-11},{"x":21,"y":21,"b":-13,"d":-11.2},{"x":22,"y":21,"b":-13,"d":-10.8},{"x":23,"y":21,"b":-13,"d":-11.1},{"x":24,"y":21,"b":-13,"d":-11.1},
{"x":0,"y":22,"b":-13,"d":-11.7},{"x":1,"y":22,"b":-13,"d":-10.9},{"x":2,"y":22,"b":-13,"d":-11.2},{"x":3,"y":22,"b":-13,"d":-11},{"x":4,"y":22,"b":-13,"d":-10.6},{"x":5,"y":22,"b":-13,"d":-10.9},{"x":6,"y":22,"b":-13,"d":-11.1},{"x":7,"y":22,"b":-13,"d":-10.5},{"x":8,"y":22,"b":-13,"d":-10.7},{"x":9,"y":22,"b":-13,"d":-10.7},{"x":10,"y":22,"b":-13,"d":-10.5},{"x":11,"y":22,"b":-13,"d":-11},{"x":12,"y":22,"b":-12.5,"d":-10.4},{"x":13,"y":22,"b":-13,"d":-10.8},{"x":14,"y":22,"b":-12.8,"d":-10.7},{"x":15,"y":22,"b":-13,"d":-10.6},{"x":16,"y":22,"b":-13,"d":-10.9},{"x":17,"y":22,"b":-13,"d":-10.5},{"x":18,"y":22,"b":-13,"d":-11.1},{"x":19,"y":22,"b":-13,"d":-11},{"x":20,"y":22,"b":-13,"d":-10.8},{"x":21,"y":22,"b":-13,"d":-11.1},{"x":22,"y":22,"b":-13,"d":-11.3},{"x":23,"y":22,"b":-13,"d":-10.9},{"x":24,"y":22,"b":-13,"d":-11.2},
{"x":0,"y":23,"b":-13,"d":-11.4},{"x":1,"y":23,"b":-13,"d":-10.8},{"x":2,"y":23,"b":-13,"d":-11.1},{"x":3,"y":23,"b":-13,"d":-10.9},{"x":4,"y":23,"b":-13,"d":-11.5},{"x":5,"y":23,"b":-13,"d":-10.8},{"x":6,"y":23,"b":-13,"d":-11.1},{"x":7,"y":23,"b":-13,"d":-10.8},{"x":8,"y":23,"b":-13,"d":-10.5},{"x":9,"y":23,"b":-13,"d":-10.9},{"x":10,"y":23,"b":-12.5,"d":-11},{"x":11,"y":23,"b":-13,"d":-10.5},{"x":12,"y":23,"b":-13,"d":-10.7},{"x":13,"y":23,"b":-13,"d":-10.9},{"x":14,"y":23,"b":-13,"d":-10.7},{"x":15,"y":23,"b":-13,"d":-11.2},{"x":16,"y":23,"b":-13,"d":-10.7},{"x":17,"y":23,"b":-13,"d":-11.1},{"x":18,"y":23,"b":-13,"d":-11},{"x":19,"y":23,"b":-13,"d":-10.9},{"x":20,"y":23,"b":-13,"d":-11.1},{"x":21,"y":23,"b":-13,"d":-10.7},{"x":22,"y":23,"b":-13,"d":-11.2},{"x":23,"y":23,"b":-13,"d":-11},{"x":24,"y":23,"b":-13,"d":-11},
{"x":0,"y":24,"b":-13,"d":-11.3},{"x":1,"y":24,"b":-13,"d":-11.5},{"x":2,"y":24,"b":-13,"d":-11.1},{"x":3,"y":24,"b":-13,"d":-11.2},{"x":4,"y":24,"b":-13,"d":-11.4},{"x":5,"y":24,"b":-13,"d":-11},{"x":6,"y":24,"b":-13,"d":-11.3},{"x":7,"y":24,"b":-13,"d":-11.1},{"x":8,"y":24,"b":-13,"d":-11.6},{"x":9,"y":24,"b":-13,"d":-11},{"x":10,"y":24,"b":-13,"d":-11.3},{"x":11,"y":24,"b":-13,"d":-11.1},{"x":12,"y":24,"b":-13,"d":-10.8},{"x":13,"y":24,"b":-13,"d":-11.2},{"x":14,"y":24,"b":-13,"d":-11.4},{"x":15,"y":24,"b":-13,"d":-11},{"x":16,"y":24,"b":-13,"d":-11.2},{"x":17,"y":24,"b":-13,"d":-11.3},{"x":18,"y":24,"b":-13,"d":-11.1},{"x":19,"y":24,"b":-13,"d":-11.6},{"x":20,"y":24,"b":-13,"d":-11},{"x":21,"y":24,"b":-13,"d":-11.4},{"x":22,"y":24,"b":-13,"d":-11.2},{"x":23,"y":24,"b":-13,"d":-11.1},{"x":24,"y":24,"b":-13,"d":-11.5}
]
},
"hconcat": [
{
"width": 282, "height": 282,
"title": "trajectories",
"view": {"stroke": "black", "strokeWidth": 1.5},
"layer": [
{"data": {"name": "traj"}, "mark": {"type": "line", "strokeWidth": 3.2, "strokeJoin": "round", "strokeCap": "round", "clip": true},
"encoding": {
"x": {"field": "x", "type": "quantitative", "scale": {"domain": [24, 870], "nice": false, "zero": false}, "axis": null},
"y": {"field": "y", "type": "quantitative", "scale": {"domain": [132, 978], "nice": false, "zero": false, "reverse": true}, "axis": null},
"color": {"field": "id", "type": "nominal", "scale": {"domain": ["a", "b", "c", "d"], "range": ["#1f77b4", "#ff7f0e", "#2ca02c", "#d62728"]}, "legend": null},
"order": {"value": null}
}},
{"data": {"name": "starts"}, "mark": {"type": "point", "shape": "M-1,0L1,0M0,-1L0,1", "filled": false, "strokeWidth": 3.5, "size": 200, "opacity": 1},
"encoding": {
"x": {"field": "x", "type": "quantitative"},
"y": {"field": "y", "type": "quantitative"},
"color": {"field": "id", "type": "nominal", "legend": null}
}},
{"data": {"name": "ends"}, "mark": {"type": "point", "shape": "M0,-1L0.223,-0.307L0.951,-0.309L0.361,0.117L0.588,0.809L0,0.38L-0.588,0.809L-0.361,0.117L-0.951,-0.309L-0.223,-0.307Z", "filled": true, "size": 280, "opacity": 1, "strokeWidth": 0},
"encoding": {
"x": {"field": "x", "type": "quantitative"},
"y": {"field": "y", "type": "quantitative"},
"color": {"field": "id", "type": "nominal", "legend": null}
}}
]
},
{
"width": 282, "height": 282,
"title": "birth",
"data": {"name": "grid"},
"mark": {"type": "rect", "strokeWidth": 0.6},
"encoding": {
"x": {"field": "x", "type": "ordinal", "axis": null, "scale": {"paddingInner": 0, "paddingOuter": 0}},
"y": {"field": "y", "type": "ordinal", "axis": null, "scale": {"paddingInner": 0, "paddingOuter": 0}},
"fill": {"field": "b", "type": "quantitative", "scale": {"scheme": "plasma", "domain": [-13, -8], "clamp": true}, "legend": null},
"stroke": {"field": "b", "type": "quantitative", "scale": {"scheme": "plasma", "domain": [-13, -8], "clamp": true}, "legend": null}
}
},
{
"width": 282, "height": 282,
"title": "death",
"data": {"name": "grid"},
"mark": {"type": "rect", "strokeWidth": 0.6},
"encoding": {
"x": {"field": "x", "type": "ordinal", "axis": null, "scale": {"paddingInner": 0, "paddingOuter": 0}},
"y": {"field": "y", "type": "ordinal", "axis": null, "scale": {"paddingInner": 0, "paddingOuter": 0}},
"fill": {"field": "d", "type": "quantitative", "scale": {"scheme": "plasma", "domain": [-13, -8], "clamp": true}, "legend": null},
"stroke": {"field": "d", "type": "quantitative", "scale": {"scheme": "plasma", "domain": [-13, -8], "clamp": true}, "legend": null}
}
},
{
"width": 15, "height": 282,
"data": {"name": "cbar"},
"view": {"stroke": "black", "strokeWidth": 1},
"mark": {"type": "rect", "strokeWidth": 0.6},
"encoding": {
"y": {"field": "v", "type": "quantitative", "scale": {"domain": [-13, -8], "nice": false, "zero": false},
"axis": {"orient": "right", "values": [-13, -12, -11, -10, -9, -8], "tickSize": 7, "tickColor": "black", "tickWidth": 1, "domain": false, "grid": false, "labelFont": "DejaVu Serif", "labelFontSize": 19, "labelColor": "black", "labelPadding": 4, "title": "probability density ln(pσ²)", "titleFont": "DejaVu Serif", "titleFontSize": 21, "titleFontWeight": "normal", "titleColor": "black", "titleAngle": 270, "titleBaseline": "top", "titlePadding": 8}},
"y2": {"field": "w"},
"fill": {"field": "v", "type": "quantitative", "scale": {"scheme": "plasma", "domain": [-13, -8]}, "legend": null},
"stroke": {"field": "v", "type": "quantitative", "scale": {"scheme": "plasma", "domain": [-13, -8]}, "legend": null}
}
}
]
}
